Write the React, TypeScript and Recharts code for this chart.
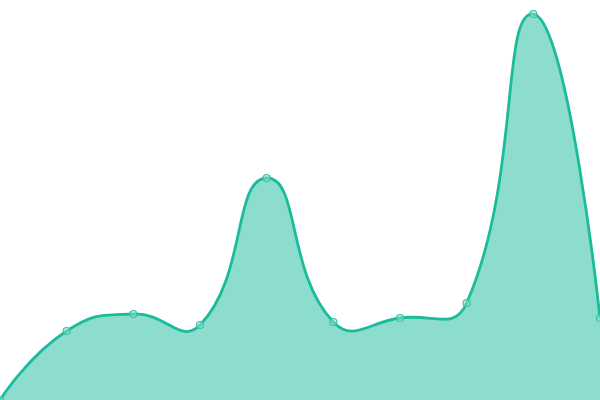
import { AreaChart, Area, XAxis, YAxis } from "recharts";

const labels = ["A", "B", "C", "D", "E", "F", "G", "H", "I", "J"];
const values = [0, 69, 86, 75, 222, 78, 82, 97, 386, 82];

const data = labels.map((label, i) => ({ label, value: values[i] }));

const SMOOTH = 0.5;

// smooth bezier curve (control points scaled by neighbour distance)
function smoothCurve(context: any) {
  let line = NaN;
  let pts: [number, number][] = [];
  return {
    areaStart() {
      line = 0;
    },
    areaEnd() {
      line = NaN;
    },
    lineStart() {
      pts = [];
    },
    point(x: number, y: number) {
      pts.push([+x, +y]);
    },
    lineEnd() {
      const n = pts.length;
      if (n) {
        if (line) context.lineTo(pts[0][0], pts[0][1]);
        else context.moveTo(pts[0][0], pts[0][1]);
        const cps: [number, number][] = [];
        for (let i = 0; i < n; i++) {
          const p = pts[i];
          if (i === 0 || i === n - 1) {
            cps.push([p[0], p[1]], [p[0], p[1]]);
            continue;
          }
          const prev = pts[i - 1];
          const next = pts[i + 1];
          const vx = (next[0] - prev[0]) * SMOOTH;
          const vy = (next[1] - prev[1]) * SMOOTH;
          let d0 = Math.hypot(p[0] - prev[0], p[1] - prev[1]);
          let d1 = Math.hypot(next[0] - p[0], next[1] - p[1]);
          const sum = d0 + d1;
          if (sum) {
            d0 /= sum;
            d1 /= sum;
          }
          cps.push([p[0] - vx * d0, p[1] - vy * d0], [p[0] + vx * d1, p[1] + vy * d1]);
        }
        for (let i = 0; i < n - 1; i++) {
          const a = cps[i * 2 + 1];
          const b = cps[(i + 1) * 2];
          context.bezierCurveTo(a[0], a[1], b[0], b[1], pts[i + 1][0], pts[i + 1][1]);
        }
        if (line || (line !== 0 && n === 1)) context.closePath();
      }
      line = 1 - line;
    },
  };
}

export default function App() {
  return (
    <div style={{ position: "absolute", left: 0, top: 0, width: 600, height: 400 }}>
      <AreaChart width={600} height={400} data={data} margin={{ top: 0, right: 0, bottom: 0, left: 0 }}>
        <XAxis dataKey="label" hide />
        <YAxis hide domain={[0, 400]} />
        <Area
          type={smoothCurve as any}
          dataKey="value"
          stroke="#1abc9c"
          strokeWidth={2.8}
          fill="#1abc9c"
          fillOpacity={0.5}
          dot={{ r: 3.5, fill: "#8ddfce", stroke: "#36c3a6", strokeWidth: 1.2 }}
          activeDot={false}
          isAnimationActive={false}
        />
      </AreaChart>
    </div>
  );
}
